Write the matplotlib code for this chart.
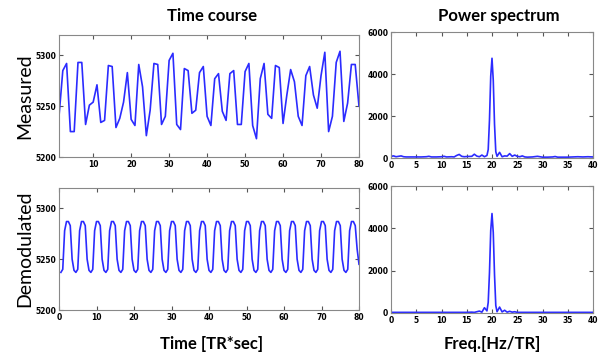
import matplotlib.pyplot as plt

# time course, TR index 1..80
t = list(range(1, 81))
measured = [5240, 5285, 5292, 5225, 5225, 5293, 5293, 5232, 5251, 5254,
            5271, 5234, 5236, 5290, 5289, 5229, 5238, 5254, 5283, 5237,
            5231, 5291, 5269, 5221, 5246, 5292, 5291, 5232, 5240, 5295,
            5302, 5232, 5227, 5287, 5285, 5243, 5246, 5283, 5289, 5240,
            5231, 5277, 5282, 5245, 5236, 5282, 5285, 5232, 5232, 5284,
            5292, 5231, 5218, 5277, 5292, 5242, 5238, 5290, 5288, 5233,
            5261, 5286, 5274, 5240, 5231, 5280, 5289, 5261, 5248, 5280,
            5303, 5225, 5240, 5293, 5304, 5235, 5253, 5291, 5291, 5250]

# demodulated signal, half-TR steps 0.5..80
t_half = [i / 2 for i in range(1, 161)]
demod = [5237,
         5240, 5278, 5287, 5287, 5283, 5250, 5239, 5237,
         5240, 5278, 5287, 5287, 5283, 5250, 5239, 5237,
         5240, 5278, 5287, 5287, 5283, 5250, 5239, 5237,
         5240, 5278, 5287, 5287, 5283, 5250, 5239, 5237,
         5240, 5278, 5287, 5287, 5283, 5250, 5239, 5237,
         5240, 5278, 5287, 5287, 5283, 5250, 5239, 5237,
         5240, 5278, 5287, 5287, 5283, 5250, 5239, 5237,
         5240, 5278, 5287, 5287, 5283, 5250, 5239, 5237,
         5240, 5278, 5287, 5287, 5283, 5250, 5239, 5237,
         5240, 5278, 5287, 5287, 5283, 5250, 5239, 5237,
         5240, 5278, 5287, 5287, 5283, 5250, 5239, 5237,
         5240, 5278, 5287, 5287, 5283, 5250, 5239, 5237,
         5240, 5278, 5287, 5287, 5283, 5250, 5239, 5237,
         5240, 5278, 5287, 5287, 5283, 5250, 5239, 5237,
         5240, 5278, 5287, 5287, 5283, 5250, 5239, 5237,
         5240, 5278, 5287, 5287, 5283, 5250, 5239, 5237,
         5240, 5278, 5287, 5287, 5283, 5250, 5239, 5237,
         5240, 5278, 5287, 5287, 5283, 5250, 5239, 5237,
         5240, 5278, 5287, 5287, 5283, 5250, 5239, 5237,
         5240, 5278, 5287, 5287, 5283, 5260, 5245]

# power spectra
freq = [0, 0.5, 1, 1.5, 2, 2.5, 3, 4, 5, 6, 7, 7.5, 8, 9, 10, 10.5, 11, 12,
        12.5, 13, 13.5, 14, 14.5, 15, 16, 16.5, 17, 17.5, 18, 18.5, 19,
        19.25, 19.5, 19.75, 20, 20.25, 20.5, 20.75, 21, 21.5, 22, 22.5, 23,
        23.5, 24, 24.5, 25, 25.5, 26, 26.5, 27, 28, 29, 29.5, 30, 31, 32,
        32.5, 33, 34, 35, 36, 37, 38, 39, 40]
pow_meas = [80, 100, 60, 80, 100, 60, 50, 50, 50, 50, 60, 80, 50, 50, 60, 80,
            50, 60, 50, 120, 170, 80, 60, 70, 80, 180, 90, 60, 140, 60, 120,
            400, 1800, 3900, 4750, 3700, 1600, 300, 80, 270, 60, 100, 90,
            210, 80, 140, 80, 60, 100, 50, 40, 50, 80, 60, 40, 40, 50, 70,
            40, 40, 40, 50, 60, 50, 60, 50]
pow_demod = [30, 30, 30, 30, 30, 30, 30, 30, 30, 30, 30, 30, 30, 30, 30, 30,
             30, 30, 30, 30, 30, 30, 30, 30, 40, 30, 60, 90, 40, 250, 100,
             500, 1900, 3900, 4700, 3800, 1800, 350, 60, 280, 50, 130, 40,
             80, 40, 60, 30, 30, 30, 30, 30, 30, 30, 30, 30, 30, 30, 30, 30,
             30, 30, 30, 30, 30, 30, 30]

blue = "#2b2bff"
fig = plt.figure(figsize=(6.10, 3.56), dpi=100)

def style(ax):
    ax.tick_params(direction="in", top=True, right=True, length=3,
                   labelsize=5.5, pad=2, color="#555555")
    for s in ax.spines.values():
        s.set_color("#888888")
        s.set_linewidth(0.8)
    for lab in ax.get_xticklabels() + ax.get_yticklabels():
        lab.set_fontweight("bold")

W, H = 610, 356
def box(l, t, r, b):
    return [l / W, 1 - b / H, (r - l) / W, (b - t) / H]

ax1 = fig.add_axes(box(59, 35, 359, 157))
ax1.plot(t, measured, color=blue, lw=1.2)
ax1.set_xlim(1, 80)
ax1.set_ylim(5200, 5320)
ax1.set_xticks(range(10, 81, 10))
ax1.set_yticks([5200, 5250, 5300])
style(ax1)

ax2 = fig.add_axes(box(59, 188, 359, 310))
ax2.plot(t_half, demod, color=blue, lw=1.2)
ax2.set_xlim(0, 80)
ax2.set_ylim(5200, 5320)
ax2.set_xticks(range(0, 81, 10))
ax2.set_yticks([5200, 5250, 5300])
style(ax2)

ax3 = fig.add_axes(box(391, 32, 593, 158))
ax3.plot(freq, pow_meas, color=blue, lw=1.2)
ax3.set_xlim(0, 40)
ax3.set_ylim(0, 6000)
ax3.set_xticks(range(0, 41, 5))
ax3.set_yticks([0, 2000, 4000, 6000])
style(ax3)

ax4 = fig.add_axes(box(391, 186, 593, 313))
ax4.plot(freq, pow_demod, color=blue, lw=1.2)
ax4.set_xlim(0, 40)
ax4.set_ylim(0, 6000)
ax4.set_xticks(range(0, 41, 5))
ax4.set_yticks([0, 2000, 4000, 6000])
style(ax4)

tfont = dict(family="Lato", fontweight="bold", fontsize=12)
fig.text(212 / W, 1 - 16 / H, "Time course", ha="center", va="center", **tfont)
fig.text(499 / W, 1 - 16 / H, "Power spectrum", ha="center", va="center", **tfont)
fig.text(212 / W, 1 - 344 / H, "Time [TR*sec]", ha="center", va="center", **tfont)
fig.text(492 / W, 1 - 344 / H, "Freq.[Hz/TR]", ha="center", va="center", **tfont)

yfont = dict(family="Lato", fontsize=14, rotation=90)
fig.text(25 / W, 1 - 96 / H, "Measured", ha="center", va="center", **yfont)
fig.text(25 / W, 1 - 249 / H, "Demodulated", ha="center", va="center", **yfont)

fig.savefig("out.png", dpi=100)
